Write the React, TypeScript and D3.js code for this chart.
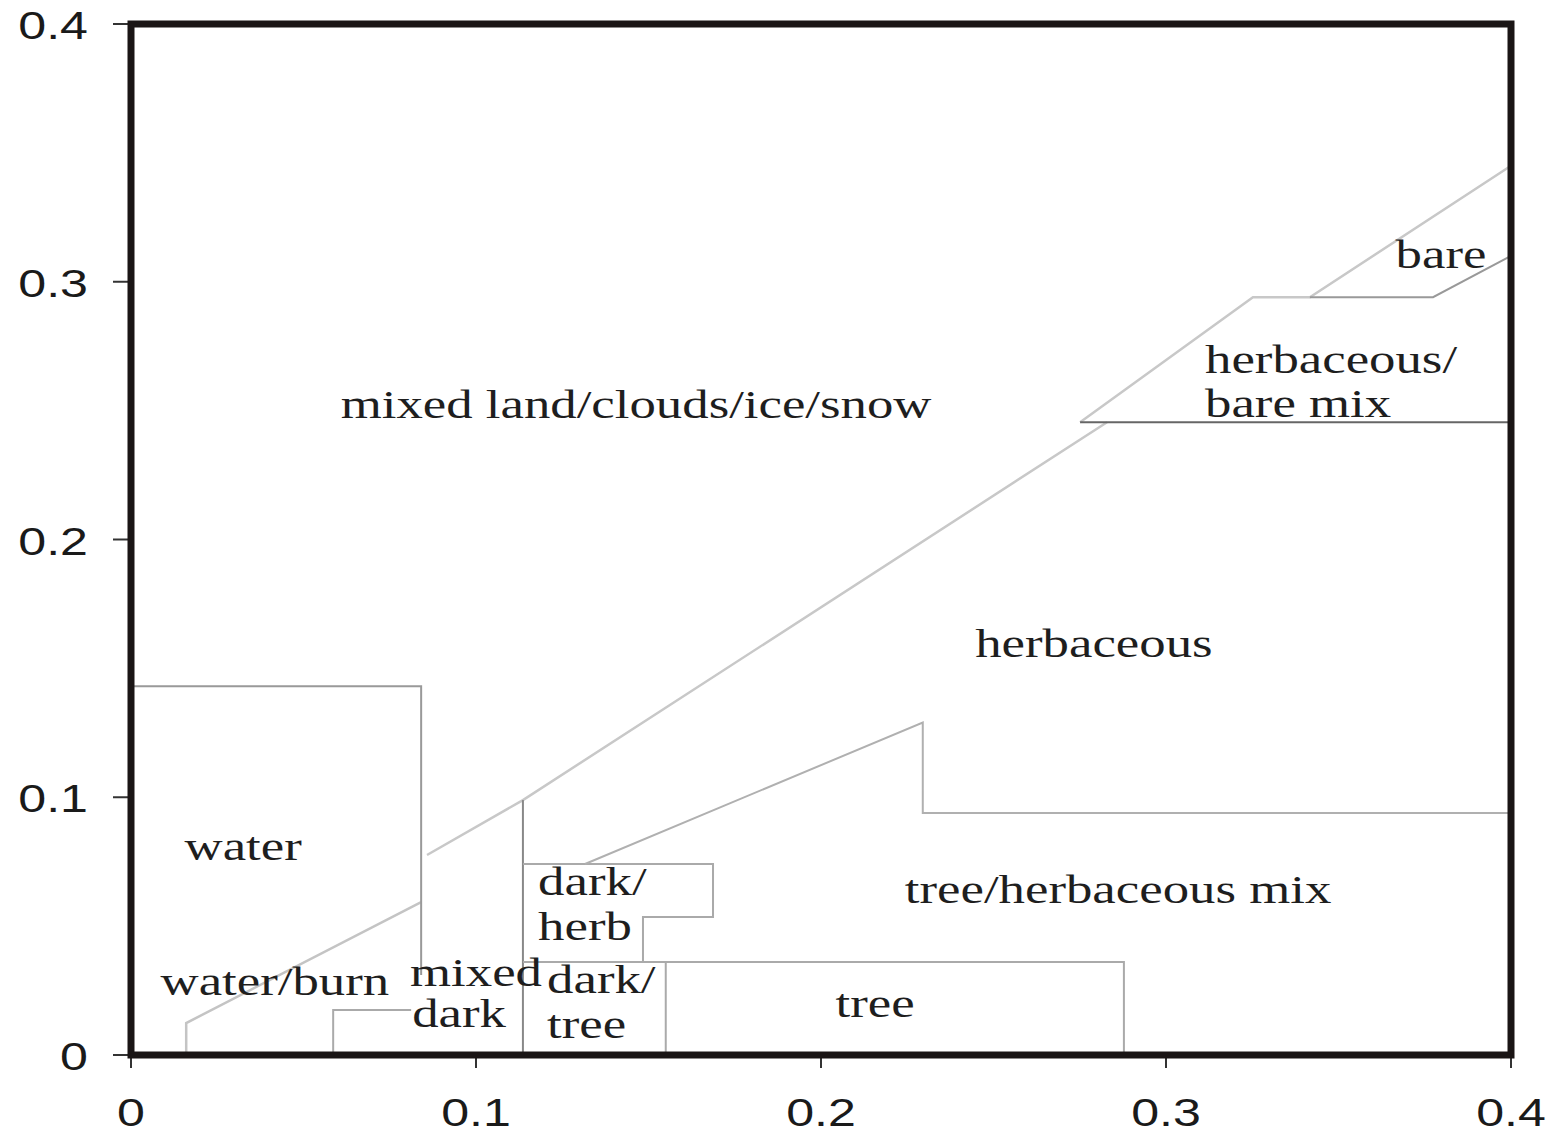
import React from "react";
import * as d3 from "d3";

// ---- data (reflectance-space class boundaries) ----
const xTicks = [0, 0.1, 0.2, 0.3, 0.4];
const yTicks = [0, 0.1, 0.2, 0.3, 0.4];
const xTickLabels = ["0", "0.1", "0.2", "0.3", "0.4"];
const yTickLabels = ["0", "0.1", "0.2", "0.3", "0.4"];

const lowerDiagonal: [number, number][] = [[0.016, 0], [0.016, 0.0124], [0.0841, 0.0593]];
const mainDiagonal: [number, number][] = [[0.0858, 0.0776], [0.1136, 0.0989], [0.2829, 0.2455]];
const upperDiagonal: [number, number][] = [[0.2751, 0.2455], [0.3252, 0.294], [0.3417, 0.294], [0.4, 0.345]];
const bareBoundary: [number, number][] = [[0.3417, 0.294], [0.3774, 0.294], [0.4, 0.31]];
const herbBareBoundary: [number, number][] = [[0.2751, 0.2455], [0.4, 0.2455]];
const waterBox: [number, number][] = [[0, 0.1431], [0.0841, 0.1431], [0.0841, 0.031]];
const smallBox: [number, number][] = [[0.0586, 0], [0.0586, 0.0175], [0.0812, 0.0175]];
const darkDivider: [number, number][] = [[0.1136, 0.0989], [0.1136, 0]];
const darkHerbBox: [number, number][] = [[0.1136, 0.0741], [0.1687, 0.0741], [0.1687, 0.0535], [0.1484, 0.0535], [0.1484, 0.0361]];
const treeBox: [number, number][] = [[0.1136, 0.0361], [0.2878, 0.0361], [0.2878, 0]];
const treeLeft: [number, number][] = [[0.155, 0.0361], [0.155, 0]];
const herbBoundary: [number, number][] = [[0.1316, 0.0741], [0.2295, 0.129], [0.2295, 0.0939], [0.4, 0.0939]];

const labelTexts = [
  "mixed land/clouds/ice/snow", "water", "water/burn", "mixed", "dark",
  "dark/", "herb", "dark/", "tree", "tree", "tree/herbaceous mix",
  "herbaceous", "herbaceous/", "bare mix", "bare",
];
const labelX = [0.1464, 0.0325, 0.0417, 0.1, 0.0951, 0.118, 0.118, 0.1206, 0.1206, 0.2157, 0.2861, 0.2791, 0.3113, 0.3113, 0.3797];
const labelY = [0.2471, 0.0756, 0.0233, 0.0268, 0.0109, 0.0621, 0.0446, 0.0241, 0.0066, 0.0147, 0.059, 0.1544, 0.2645, 0.2475, 0.3053];
const labelAnchor = ["middle", "middle", "middle", "middle", "middle", "start", "start", "start", "start", "middle", "middle", "middle", "start", "start", "middle"];

// ---- layout ----
const W = 1562;
const H = 1134;
const left = 131, right = 1511, top = 24, bottom = 1055;

export default function App() {
  const x = d3.scaleLinear().domain([0, 0.4]).range([left, right]);
  const y = d3.scaleLinear().domain([0, 0.4]).range([bottom, top]);
  const line = d3.line<[number, number]>().x((d) => x(d[0])).y((d) => y(d[1]));

  const segs: { pts: [number, number][]; color: string; w: number }[] = [
    { pts: lowerDiagonal, color: "#c4c4c4", w: 2.5 },
    { pts: mainDiagonal, color: "#c8c8c8", w: 2.5 },
    { pts: upperDiagonal, color: "#c8c8c8", w: 2.5 },
    { pts: bareBoundary, color: "#999", w: 2 },
    { pts: herbBareBoundary, color: "#666", w: 2 },
    { pts: waterBox, color: "#999", w: 2 },
    { pts: smallBox, color: "#aaa", w: 2 },
    { pts: darkDivider, color: "#888", w: 2 },
    { pts: darkHerbBox, color: "#aaa", w: 2 },
    { pts: treeBox, color: "#aaa", w: 2 },
    { pts: treeLeft, color: "#aaa", w: 2 },
    { pts: herbBoundary, color: "#b0b0b0", w: 2 },
  ];

  const serif = "'Liberation Serif', 'Times New Roman', serif";
  const sans = "'Liberation Sans', Arial, sans-serif";
  const sx = 1.32;

  return (
    <svg width={W} height={H} style={{ position: "absolute", left: 0, top: 0, background: "#fff" }}>
      <rect x={0} y={0} width={W} height={H} fill="#fff" />
      {segs.map((s, i) => (
        <path key={i} d={line(s.pts) || ""} fill="none" stroke={s.color} strokeWidth={s.w} />
      ))}
      {labelTexts.map((t, i) => (
        <text
          key={i}
          transform={`translate(${x(labelX[i])},${y(labelY[i])}) scale(${sx},1)`}
          textAnchor={labelAnchor[i] as any}
          fontFamily={serif}
          fontSize={40}
          fill="#1e1e1e"
        >
          {t}
        </text>
      ))}
      {/* ticks */}
      {yTicks.map((v, i) => (
        <line key={"yt" + i} x1={113} x2={left} y1={y(v)} y2={y(v)} stroke="#333" strokeWidth={2} />
      ))}
      {xTicks.map((v, i) => (
        <line key={"xt" + i} x1={x(v)} x2={x(v)} y1={bottom} y2={1068} stroke="#333" strokeWidth={2} />
      ))}
      {/* frame */}
      <rect x={left} y={top} width={right - left} height={bottom - top} fill="none" stroke="#1a1515" strokeWidth={7} />
      {yTicks.map((v, i) => (
        <text
          key={"yl" + i}
          transform={`translate(88,${y(v) + 15}) scale(${sx},1)`}
          textAnchor="end"
          fontFamily={sans}
          fontSize={38}
          fill="#1a1a1a"
        >
          {yTickLabels[i]}
        </text>
      ))}
      {xTicks.map((v, i) => (
        <text
          key={"xl" + i}
          transform={`translate(${x(v)},1126) scale(${sx},1)`}
          textAnchor="middle"
          fontFamily={sans}
          fontSize={38}
          fill="#1a1a1a"
        >
          {xTickLabels[i]}
        </text>
      ))}
    </svg>
  );
}
